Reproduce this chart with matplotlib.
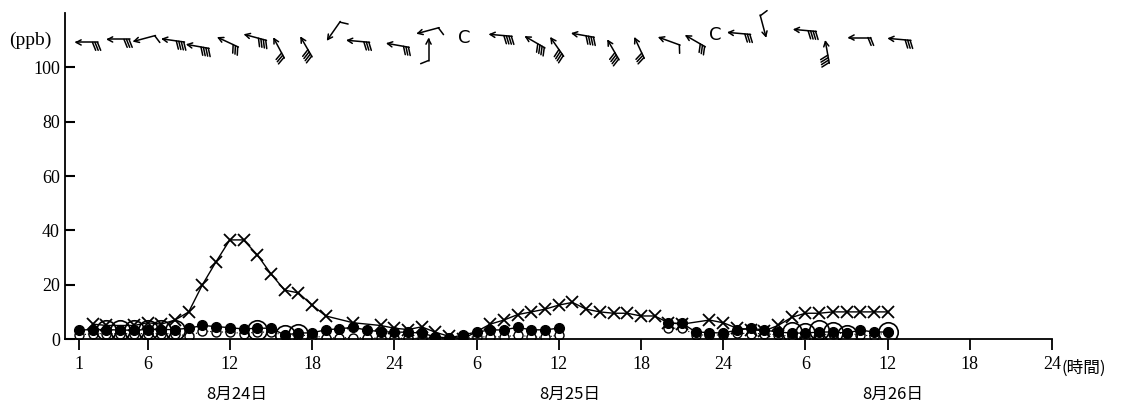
import numpy as np
import matplotlib.pyplot as plt
from matplotlib import transforms

# hours counted continuously from 8/24 0:00 (25 = 8/25 1:00, 49 = 8/26 1:00)
ox_hours = [2, 3, 5, 6, 7, 8, 9, 10, 11, 12, 13, 14, 15, 16, 17, 18, 19, 21, 23, 24,
            25, 26, 27, 28, 29, 31, 32, 33, 34, 35, 36, 37, 38, 39, 40, 41, 42, 43, 44, 45,
            47, 48, 49, 50, 51, 52, 53, 54, 55, 56, 57, 58, 59, 60]
ox_values = [5.5, 5, 5, 6, 5.5, 7, 10, 20, 28.5, 36.5, 36.5, 31, 24, 18, 17, 12.5, 8.5, 6, 5, 4,
             3.5, 4.5, 2.5, 1, 0, 5.5, 7, 9, 10, 11, 12.5, 13.5, 11, 10, 9.5, 9.5, 8.5, 8.5, 6, 5.5,
             7, 6, 4, 3.5, 3, 5, 8, 9.5, 9.5, 10, 10, 10, 10, 10]

dot_hours = list(range(1, 37)) + list(range(44, 61))
filled_values = [3.3, 3.5, 3.5, 3.3, 3.3, 3.5, 3.5, 3.5, 4, 5, 4.6, 4.2, 3.7, 4, 4, 1.5, 2.2, 2.3,
                 3.4, 3.8, 4.3, 3.3, 2.7, 2.6, 2.5, 2.2, 0.8, 0.4, 1.5, 2.6, 3.3, 3.4, 4.3, 3.4, 3.4, 4,
                 5.8, 5.8, 2.6, 2.4, 2.2, 3.3, 4, 3.3, 2.6, 2.2, 2.2, 2.6, 2.6, 2.2, 3.3, 2.6, 2.6]
open_values = [1.5, 2, 2, 2, 2, 2, 2, 2, 1, 3, 2.6, 2.6, 2, 2.6, 2.5, 1.5, 1.5, 1.2,
               0.5, 0.5, 0.5, 0.5, 0.3, 0.3, 0.3, 0.3, 0.3, 0.3, 0.5, 0.8, 0.8, 0.8, 1.5, 0.8, 0.6, 1.5,
               4, 4, 1.5, 1.5, 1.5, 2.2, 2, 2, 1.5, 1, 0.5, 1.5, 2, 2.2, 1.5, 1.1, 2.6]

big_hours = [3, 4, 5, 6, 7, 8, 14, 16, 17, 53, 54, 55, 56, 57, 60]
big_values = [3.5, 3.5, 3.3, 3.5, 3.5, 3.5, 3.3, 1.5, 1.8, 2.6, 2.2, 3.3, 2.6, 1.5, 2.6]

# wind symbols: hour, level (ppb axis), arrow direction (deg, 0 = right), feathers (0 = calm "C")
wind_hours = [1.6, 3.9, 5.8, 7.9, 9.7, 11.9, 13.9, 15.6, 17.6, 19.6, 21.4, 24.3, 26.5, 26.5,
              29.1, 31.8, 34.3, 35.9, 37.8, 40.0, 41.9, 44.1, 46.0, 47.4, 49.2, 50.9, 54.0,
              55.6, 58.0, 60.9]
wind_levels = [109.2, 110.3, 110.7, 109.9, 107.7, 109.2, 111, 107, 107.4, 113.6, 109.6, 108.1,
               113.6, 106.3, 110.7, 111.8, 109.2, 107.4, 111.8, 106.3, 107, 109.6, 109.6, 112,
               112.5, 115.4, 113.6, 105.5, 111, 110.3]
wind_dirs = [180, 180, 195, 172, 170, 155, 165, 118, 120, 235, 175, 170, 195, 90,
             0, 175, 150, 125, 170, 120, 115, 160, 150, 0, 175, 285, 175, 100, 180, 175]
wind_feathers = [3, 3, 1, 4, 4, 3, 4, 3, 4, 1, 3, 3, 1, 1,
                 0, 4, 4, 4, 4, 4, 3, 1, 3, 0, 3, 1, 4, 4, 2, 3]

tick_hours = [1, 6, 12, 18, 24, 30, 36, 42, 48, 54, 60, 66, 72]
tick_labels = ["1", "6", "12", "18", "24", "6", "12", "18", "24", "6", "12", "18", "24"]
date_hours = [12.5, 36.8, 60.4]
date_labels = ["8月24日", "8月25日", "8月26日"]

SERIF = "Liberation Serif"
CJK = ["Noto Sans CJK JP", "DejaVu Sans"]


def rot(v, deg):
    a = np.radians(deg)
    c, s = np.cos(a), np.sin(a)
    return np.array([c * v[0] - s * v[1], s * v[0] + c * v[1]])


def draw_wind(fig, ax, hour, level, angle, feathers):
    """Arrow pointing downwind with feathers hanging off the tail, sized in inches."""
    if feathers == 0:
        ax.text(hour, level, "C", ha="center", va="center", fontsize=13,
                family="DejaVu Sans", clip_on=False)
        return
    trans = fig.dpi_scale_trans + transforms.ScaledTranslation(hour, level, ax.transData)
    d = rot(np.array([1.0, 0.0]), angle)
    n = rot(d, 90)
    head = d * 0.11
    tail = -d * 0.11
    segs = [(tail, head)]
    for side in (28, -28):
        segs.append((head, head - 0.055 * rot(d, side)))
    fdir = n * np.cos(np.radians(22)) - d * np.sin(np.radians(22))
    for i in range(feathers):
        start = tail + d * (0.025 * i + 0.008)
        segs.append((start, start + 0.085 * fdir))
    for a, b in segs:
        ax.plot([a[0], b[0]], [a[1], b[1]], color="black", lw=1.1,
                transform=trans, clip_on=False, solid_capstyle="round")


fig = plt.figure(figsize=(11.29, 4.09), dpi=100)
ax = fig.add_axes([0.0579, 0.171, 0.874, 0.797])

ax.plot(ox_hours, ox_values, color="black", lw=1.0, marker="x", ms=8, mew=1.3, zorder=3)
ax.plot(dot_hours[:36], open_values[:36], color="black", lw=0.8, ls=":", marker="o", ms=6.5,
        mfc="white", mec="black", mew=1.0, zorder=2)
ax.plot(dot_hours[36:], open_values[36:], color="black", lw=0.8, ls=":", marker="o", ms=6.5,
        mfc="white", mec="black", mew=1.0, zorder=2)
ax.plot(dot_hours[:36], filled_values[:36], color="black", lw=1.0, marker="o", ms=7,
        mfc="black", mec="black", zorder=4)
ax.plot(dot_hours[36:], filled_values[36:], color="black", lw=1.0, marker="o", ms=7,
        mfc="black", mec="black", zorder=4)
ax.plot(big_hours, big_values, ls="none", marker="o", ms=14, mfc="none", mec="black",
        mew=1.2, zorder=5)

for h, lv, ang, nf in zip(wind_hours, wind_levels, wind_dirs, wind_feathers):
    draw_wind(fig, ax, h, lv, ang, nf)

ax.set_xlim(0, 72)
ax.set_ylim(0, 120)
ax.spines["top"].set_visible(False)
ax.spines["right"].set_visible(False)
ax.spines["left"].set_linewidth(1.3)
ax.spines["bottom"].set_linewidth(1.3)

ax.set_yticks([0, 20, 40, 60, 80, 100])
ax.tick_params(axis="y", direction="in", length=7, width=1.5, labelsize=13, pad=4)
ax.set_xticks(tick_hours)
ax.set_xticklabels(tick_labels)
ax.tick_params(axis="x", direction="out", length=8, width=1.3, labelsize=13, pad=4)
for lab in ax.get_xticklabels() + ax.get_yticklabels():
    lab.set_family(SERIF)

fig.text(0.027, 0.902, "(ppb)", ha="center", va="center", fontsize=14, family=SERIF)
ax.text(72.7, -0.062, "(時間)", transform=ax.get_xaxis_transform(), ha="left", va="top",
        fontsize=12, family=CJK)
for h, lab in zip(date_hours, date_labels):
    ax.text(h, -0.145, lab, transform=ax.get_xaxis_transform(), ha="center", va="top",
            fontsize=12, family=CJK)

fig.savefig("out.png", dpi=100)
